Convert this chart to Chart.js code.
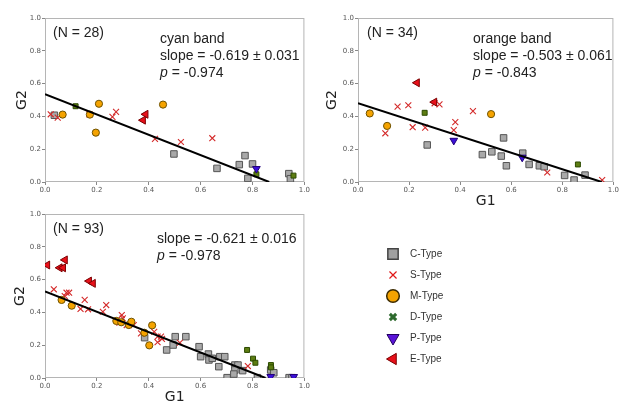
<!DOCTYPE html>
<html>
<head>
<meta charset="utf-8">
<script src="https://cdn.jsdelivr.net/npm/chart.js@4.4.0/dist/chart.umd.min.js"></script>
<style>
  body { margin: 0; background: #fff; width: 619px; height: 402px; overflow: hidden; position: relative; font-family: 'Liberation Sans', Arial, sans-serif; }
  canvas { position: absolute; }
  .note { position: absolute; font-size: 14px; line-height: 17px; color: #222; white-space: nowrap; }
</style>
</head>
<body>
<canvas id="c1" width="310" height="200" style="left:0;top:0"></canvas>
<canvas id="c2" width="309" height="215" style="left:310px;top:0"></canvas>
<canvas id="c3" width="310" height="210" style="left:0;top:200px"></canvas>
<canvas id="c4" width="140" height="140" style="left:370px;top:235px"></canvas>
<div id="notes"></div>
<script>
const types = ['C-Type', 'S-Type', 'M-Type', 'D-Type', 'P-Type', 'E-Type'];

// cyan band (G1, G2)
const cyanC = [[0.036, 0.407], [0.497, 0.171], [0.663, 0.083], [0.749, 0.106], [0.771, 0.161], [0.782, 0.022], [0.80, 0.11], [0.94, 0.051], [0.946, 0.02]];
const cyanS = [[0.022, 0.413], [0.049, 0.393], [0.171, 0.413], [0.260, 0.397], [0.274, 0.428], [0.424, 0.263], [0.524, 0.244], [0.645, 0.267]];
const cyanM = [[0.068, 0.411], [0.173, 0.411], [0.208, 0.477], [0.196, 0.301], [0.455, 0.472]];
const cyanD = [[0.118, 0.462], [0.815, 0.047], [0.958, 0.039]];
const cyanP = [[0.815, 0.081]];
const cyanE = [[0.378, 0.377], [0.388, 0.413]];

// orange band
const orangeC = [[0.271, 0.226], [0.487, 0.167], [0.524, 0.184], [0.570, 0.269], [0.561, 0.158], [0.581, 0.099], [0.645, 0.176], [0.670, 0.107], [0.710, 0.099], [0.729, 0.093], [0.809, 0.040], [0.846, 0.012], [0.889, 0.042]];
const orangeS = [[0.107, 0.297], [0.155, 0.460], [0.197, 0.468], [0.214, 0.334], [0.263, 0.332], [0.319, 0.473], [0.381, 0.365], [0.375, 0.316], [0.450, 0.432], [0.741, 0.058], [0.956, 0.012], [0.300, 0.480]];
const orangeM = [[0.046, 0.418], [0.114, 0.342], [0.521, 0.414]];
const orangeD = [[0.261, 0.422], [0.861, 0.107]];
const orangeP = [[0.375, 0.253], [0.643, 0.150]];
const orangeE = [[0.231, 0.605], [0.299, 0.487]];

// all
const allC = [[0.384, 0.246], [0.469, 0.171], [0.502, 0.252], [0.543, 0.252], [0.494, 0.201], [0.594, 0.191], [0.600, 0.130], [0.630, 0.146], [0.632, 0.110], [0.645, 0.120], [0.674, 0.130], [0.693, 0.130], [0.670, 0.069], [0.702, 0.002], [0.732, 0.079], [0.744, 0.079], [0.732, 0.049], [0.728, 0.024], [0.762, 0.045], [0.819, 0.002], [0.870, 0.049], [0.882, 0.032], [0.941, 0.002], [0.952, 0.002]];
const allS = [[0.034, 0.541], [0.083, 0.520], [0.093, 0.520], [0.076, 0.500], [0.153, 0.476], [0.137, 0.421], [0.166, 0.419], [0.236, 0.445], [0.223, 0.404], [0.296, 0.384], [0.300, 0.364], [0.287, 0.337], [0.315, 0.323], [0.342, 0.323], [0.370, 0.272], [0.421, 0.282], [0.434, 0.252], [0.434, 0.218], [0.447, 0.252], [0.451, 0.238], [0.520, 0.215], [0.782, 0.073]];
const allM = [[0.064, 0.476], [0.103, 0.441], [0.275, 0.348], [0.294, 0.340], [0.323, 0.323], [0.333, 0.343], [0.383, 0.276], [0.413, 0.321], [0.402, 0.199]];
const allD = [[0.779, 0.171], [0.802, 0.118], [0.811, 0.093], [0.871, 0.079], [0.871, 0.065]];
const allP = [[0.870, 0.008], [0.959, 0.008]];
const allE = [[0.009, 0.689], [0.057, 0.672], [0.070, 0.672], [0.077, 0.720], [0.170, 0.591], [0.185, 0.577]];

// fits
const bandName = ['cyan band', 'orange band', ''];
const bandN = [28, 34, 93];
const bandSlope = [-0.619, -0.503, -0.621];
const slopeErr = [0.031, 0.061, 0.016];
const bandP = [-0.974, -0.843, -0.978];
const bandIntercept = [0.535, 0.48, 0.528];

const typeStyle = [
  { pointStyle: 'rect', backgroundColor: '#a9a9a9', borderColor: '#555', pointRadius: 4.6, borderWidth: 1 },
  { pointStyle: 'crossRot', backgroundColor: '#d42a2a', borderColor: '#d42a2a', pointRadius: 4.2, borderWidth: 1.1 },
  { pointStyle: 'circle', backgroundColor: '#f5a300', borderColor: '#6e5200', pointRadius: 3.6, borderWidth: 1 },
  { pointStyle: 'rect', backgroundColor: '#5d7d12', borderColor: '#2c4a00', pointRadius: 3.5, borderWidth: 1 },
  { pointStyle: 'triangle', rotation: 180, backgroundColor: '#3b10d8', borderColor: '#22007a', pointRadius: 4.4, borderWidth: 1 },
  { pointStyle: 'triangle', rotation: -90, backgroundColor: '#e8101a', borderColor: '#7a0000', pointRadius: 4.6, borderWidth: 1 }
];
const legendStyle = [
  { pointStyle: 'rect', fill: '#a0a0a0', stroke: '#444', radius: 7.3, borderWidth: 1.5 },
  { pointStyle: 'crossRot', fill: '#e01818', stroke: '#e01818', radius: 5, borderWidth: 1.2 },
  { pointStyle: 'circle', fill: '#f5a300', stroke: '#3a2a00', radius: 6.3, borderWidth: 1.5 },
  { pointStyle: 'crossRot', fill: '#2e6a2e', stroke: '#2e6a2e', radius: 4.5, borderWidth: 3 },
  { pointStyle: 'triangle', rotation: 180, fill: '#5a14d8', stroke: '#220060', radius: 7, borderWidth: 1 },
  { pointStyle: 'triangle', rotation: -90, fill: '#e8101a', stroke: '#7a0000', radius: 6.5, borderWidth: 1 }
];

const frame = {
  id: 'frame',
  beforeDatasetsDraw(chart) {
    const a = chart.chartArea, ctx = chart.ctx;
    ctx.save();
    ctx.strokeStyle = '#b5b5b5';
    ctx.lineWidth = 1;
    ctx.strokeRect(a.left + 0.5, a.top + 0.5, a.right - a.left - 1, a.bottom - a.top - 1);
    ctx.restore();
  }
};

function axis(which, size, title, pad) {
  return {
    type: 'linear', min: 0, max: 1,
    ticks: {
      stepSize: 0.2, autoSkip: false, maxRotation: 0, padding: 1,
      font: { family: 'DejaVu Sans', size: 7 }, color: '#555',
      callback: v => v.toFixed(1)
    },
    grid: { drawOnChartArea: false, tickLength: 3, color: '#888' },
    border: { display: false },
    title: {
      display: !!title, text: title, color: '#222',
      font: { family: 'DejaVu Sans', size: 14 },
      padding: which === 'x' ? { top: 0, bottom: pad } : { top: pad, bottom: 0 }
    },
    afterFit: s => {
      if (which === 'x') s.height = size; else s.width = size;
      s.paddingLeft = 0; s.paddingRight = 0; s.paddingTop = 0; s.paddingBottom = 0;
    }
  };
}

const panels = [
  { id: 'c1', pts: [cyanC, cyanS, cyanM, cyanD, cyanP, cyanE], pad: { left: 0, right: 5, top: 18, bottom: 0 }, yW: 45, xH: 18, g1: '', g1Pad: 0, g2Pad: 14 },
  { id: 'c2', pts: [orangeC, orangeS, orangeM, orangeD, orangeP, orangeE], pad: { left: 0, right: 2, top: 18, bottom: 0 }, yW: 48, xH: 33, g1: 'G1', g1Pad: 5.6, g2Pad: 13.6 },
  { id: 'c3', pts: [allC, allS, allM, allD, allP, allE], pad: { left: 0, right: 4, top: 14, bottom: 0 }, yW: 45, xH: 32, g1: 'G1', g1Pad: 4.6, g2Pad: 11.6 }
];

panels.forEach((p, k) => {
  const datasets = p.pts.map((pts, i) => Object.assign({
    type: 'scatter',
    label: types[i],
    data: pts.map(d => ({ x: d[0], y: d[1] })),
    order: 6 - i
  }, typeStyle[i]));
  datasets.push({
    type: 'line',
    label: 'fit',
    data: [{ x: 0, y: bandIntercept[k] }, { x: -bandIntercept[k] / bandSlope[k], y: 0 }],
    borderColor: '#000', borderWidth: 2, pointRadius: 0, order: 0
  });
  new Chart(document.getElementById(p.id), {
    type: 'scatter',
    data: { datasets },
    options: {
      responsive: false, animation: false, events: [],
      layout: { padding: p.pad },
      plugins: { legend: { display: false }, tooltip: { enabled: false } },
      scales: {
        x: axis('x', p.xH, p.g1, p.g1Pad),
        y: axis('y', p.yW, 'G2', p.g2Pad)
      }
    },
    plugins: [frame]
  });
});

// legend
const legendDraw = {
  id: 'legendDraw',
  afterDraw(chart) {
    const ctx = chart.ctx;
    ctx.save();
    types.forEach((t, i) => {
      const s = legendStyle[i];
      const y = 19 + i * 21;
      ctx.fillStyle = s.fill;
      ctx.strokeStyle = s.stroke;
      ctx.lineWidth = s.borderWidth;
      Chart.helpers.drawPoint(ctx, { pointStyle: s.pointStyle, rotation: s.rotation || 0, radius: s.radius, borderWidth: s.borderWidth }, 23, y);
      ctx.fillStyle = '#333';
      ctx.font = '10px "Liberation Sans", Arial, sans-serif';
      ctx.textBaseline = 'middle';
      ctx.fillText(t, 40, y);
    });
    ctx.restore();
  }
};
new Chart(document.getElementById('c4'), {
  type: 'scatter',
  data: { datasets: [] },
  options: {
    responsive: false, animation: false, events: [],
    plugins: { legend: { display: false }, tooltip: { enabled: false } },
    scales: { x: { display: false }, y: { display: false } }
  },
  plugins: [legendDraw]
});

// text annotations
const notePos = [
  { n: [53, 24], t: [160, 30] },
  { n: [367, 24], t: [473, 30] },
  { n: [53, 220], t: [157, 230] }
];
const notes = document.getElementById('notes');
notePos.forEach((pos, k) => {
  const n = document.createElement('div');
  n.className = 'note';
  n.style.left = pos.n[0] + 'px'; n.style.top = pos.n[1] + 'px';
  n.textContent = '(N = ' + bandN[k] + ')';
  notes.appendChild(n);
  const t = document.createElement('div');
  t.className = 'note';
  t.style.left = pos.t[0] + 'px'; t.style.top = pos.t[1] + 'px';
  const lines = [];
  if (bandName[k]) lines.push(bandName[k]);
  lines.push('slope = ' + bandSlope[k].toFixed(3) + ' \u00b1 ' + slopeErr[k].toFixed(3));
  lines.push('<i>p</i> = ' + bandP[k].toFixed(3));
  t.innerHTML = lines.join('<br>');
  notes.appendChild(t);
});
</script>
</body>
</html>
